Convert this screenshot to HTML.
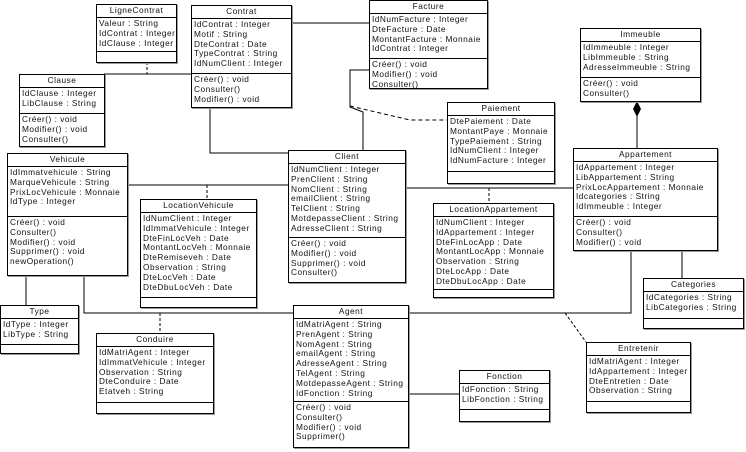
<!DOCTYPE html>
<html><head><meta charset="utf-8"><style>
body{margin:0;width:746px;height:452px;background:#fff;position:relative;overflow:hidden;font-family:"Liberation Sans",sans-serif;font-size:8.3px;letter-spacing:0.5px;color:#111}
.b{position:absolute;border:1px solid #000;background:#fff;box-shadow:1px 1px 0 #999;box-sizing:border-box;overflow:hidden}
.t{text-align:center;border-bottom:1px solid #000;height:12px;line-height:11px}
.a{border-bottom:1px solid #000;padding:1px 2px 0 2px;line-height:9.8px;box-sizing:border-box;white-space:nowrap}
.m{padding:1px 2px 0 2px;line-height:9.8px;white-space:nowrap}
svg{position:absolute;left:0;top:0}
</style></head><body>
<svg width="746" height="452">
<g stroke="#000" stroke-width="1" fill="none">
<line x1="291" y1="23" x2="369" y2="23"/>
<line x1="104" y1="74" x2="191" y2="74"/>
<line x1="147" y1="62" x2="147" y2="74" stroke-dasharray="3,2"/>
<polyline points="210,107 210,153 288,153"/>
<polyline points="369,70 350,70 350,107 363,112 363,150"/>
<polyline points="350,106 410,120 447,120" stroke-dasharray="4,3"/>
<line x1="127" y1="185" x2="288" y2="185"/>
<line x1="207" y1="185" x2="207" y2="199" stroke-dasharray="3,2"/>
<line x1="405" y1="188" x2="573" y2="188"/>
<line x1="489" y1="188" x2="489" y2="203" stroke-dasharray="3,2"/>
<line x1="637" y1="110" x2="637" y2="148"/>
<line x1="682" y1="250" x2="682" y2="278"/>
<polyline points="631,250 631,313 408,313"/>
<line x1="565" y1="313" x2="586" y2="342" stroke-dasharray="3,2"/>
<polyline points="84,275 84,313 293,313"/>
<line x1="160" y1="313" x2="160" y2="333" stroke-dasharray="3,2"/>
<line x1="26" y1="275" x2="26" y2="305"/>
<line x1="408" y1="394" x2="459" y2="394"/>
</g>
<polygon points="637,101 641,109 637,117 633,109" fill="#000"/>
</svg>

<div class="b" style="left:96px;top:4px;width:81px;height:59px"><div class="t">LigneContrat</div><div class="a" style="height:34px">Valeur : String<br>IdContrat : Integer<br>IdClause : Integer</div></div>

<div class="b" style="left:191px;top:5px;width:101px;height:103px"><div class="t">Contrat</div><div class="a" style="height:55px">IdContrat : Integer<br>Motif : String<br>DteContrat : Date<br>TypeContrat : String<br>IdNumClient : Integer</div><div class="m">Créer() : void<br>Consulter()<br>Modifier() : void</div></div>

<div class="b" style="left:19px;top:74px;width:86px;height:73px"><div class="t">Clause</div><div class="a" style="height:26px">IdClause : Integer<br>LibClause : String</div><div class="m">Créer() : void<br>Modifier() : void<br>Consulter()</div></div>

<div class="b" style="left:369px;top:0px;width:119px;height:89px"><div class="t">Facture</div><div class="a" style="height:45px">IdNumFacture : Integer<br>DteFacture : Date<br>MontantFacture : Monnaie<br>IdContrat : Integer</div><div class="m">Créer() : void<br>Modifier() : void<br>Consulter()</div></div>

<div class="b" style="left:447px;top:102px;width:108px;height:82px"><div class="t">Paiement</div><div class="a" style="height:56px">DtePaiement : Date<br>MontantPaye : Monnaie<br>TypePaiement : String<br>IdNumClient : Integer<br>IdNumFacture : Integer</div></div>

<div class="b" style="left:580px;top:28px;width:121px;height:74px"><div class="t">Immeuble</div><div class="a" style="height:36px">IdImmeuble : Integer<br>LibImmeuble : String<br>AdresseImmeuble : String</div><div class="m">Créer() : void<br>Consulter()</div></div>

<div class="b" style="left:573px;top:148px;width:145px;height:103px"><div class="t">Appartement</div><div class="a" style="height:55px">IdAppartement : Integer<br>LibAppartement : String<br>PrixLocAppartement : Monnaie<br>Idcategories : String<br>IdImmeuble : Integer</div><div class="m">Créer() : void<br>Consulter()<br>Modifier() : void</div></div>

<div class="b" style="left:7px;top:153px;width:121px;height:123px"><div class="t">Vehicule</div><div class="a" style="height:50px">IdImmatvehicule : String<br>MarqueVehicule : String<br>PrixLocVehicule : Monnaie<br>IdType : Integer</div><div class="m">Créer() : void<br>Consulter()<br>Modifier() : void<br>Supprimer() : void<br>newOperation()</div></div>

<div class="b" style="left:140px;top:199px;width:117px;height:109px"><div class="t">LocationVehicule</div><div class="a" style="height:85px">IdNumClient : Integer<br>IdImmatVehicule : Integer<br>DteFinLocVeh : Date<br>MontantLocVeh : Monnaie<br>DteRemiseveh : Date<br>Observation : String<br>DteLocVeh : Date<br>DteDbuLocVeh : Date</div></div>

<div class="b" style="left:288px;top:150px;width:118px;height:133px"><div class="t">Client</div><div class="a" style="height:74px">IdNumClient : Integer<br>PrenClient : String<br>NomClient : String<br>emailClient : String<br>TelClient : String<br>MotdepasseClient : String<br>AdresseClient : String</div><div class="m">Créer() : void<br>Modifier() : void<br>Supprimer() : void<br>Consulter()</div></div>

<div class="b" style="left:433px;top:203px;width:121px;height:95px"><div class="t">LocationAppartement</div><div class="a" style="height:73px">IdNumClient : Integer<br>IdAppartement : Integer<br>DteFinLocApp : Date<br>MontantLocApp : Monnaie<br>Observation : String<br>DteLocApp : Date<br>DteDbuLocApp : Date</div></div>

<div class="b" style="left:643px;top:278px;width:101px;height:51px"><div class="t">Categories</div><div class="a" style="height:27px">IdCategories : String<br>LibCategories : String</div></div>

<div class="b" style="left:0px;top:305px;width:79px;height:49px"><div class="t">Type</div><div class="a" style="height:26px">IdType : Integer<br>LibType : String</div></div>

<div class="b" style="left:96px;top:333px;width:118px;height:81px"><div class="t">Conduire</div><div class="a" style="height:56px">IdMatriAgent : Integer<br>IdImmatVehicule : Integer<br>Observation : String<br>DteConduire : Date<br>Etatveh : String</div></div>

<div class="b" style="left:293px;top:305px;width:116px;height:143px"><div class="t">Agent</div><div class="a" style="height:83px">IdMatriAgent : String<br>PrenAgent : String<br>NomAgent : String<br>emailAgent : String<br>AdresseAgent : String<br>TelAgent : String<br>MotdepasseAgent : String<br>IdFonction : String</div><div class="m">Créer() : void<br>Consulter()<br>Modifier() : void<br>Supprimer()</div></div>

<div class="b" style="left:459px;top:370px;width:91px;height:52px"><div class="t">Fonction</div><div class="a" style="height:26px">IdFonction : String<br>LibFonction : String</div></div>

<div class="b" style="left:586px;top:342px;width:105px;height:71px"><div class="t">Entretenir</div><div class="a" style="height:46px">IdMatriAgent : Integer<br>IdAppartement : Integer<br>DteEntretien : Date<br>Observation : String</div></div>
</body></html>
